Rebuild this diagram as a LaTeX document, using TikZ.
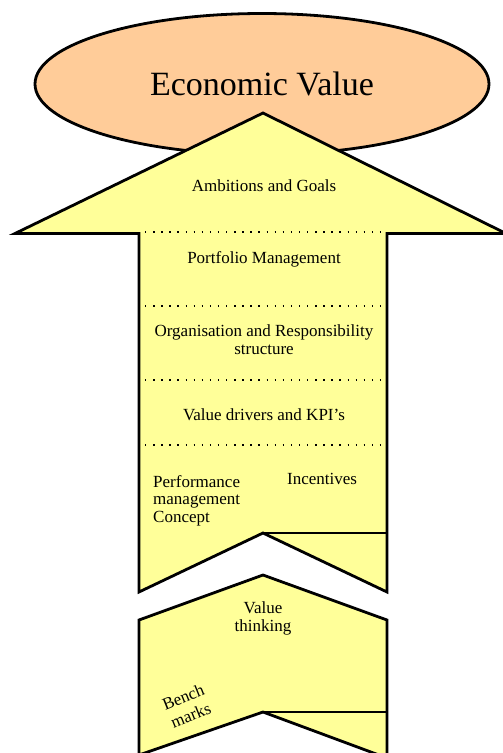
\documentclass[tikz,border=0pt]{standalone}
\usepackage{fontspec}
\setmainfont{Liberation Serif}
\usetikzlibrary{shapes.geometric}
\definecolor{peach}{HTML}{FFCC99}
\definecolor{paleyellow}{HTML}{FFFF99}
\begin{document}
\begin{tikzpicture}[x=1pt,y=-1pt,
  outline/.style={draw=black,line width=2.8pt,line join=miter},
  yellowpart/.style={outline,fill=paleyellow},
  sep/.style={line width=1.6pt,dash pattern=on 1.4pt off 6.7pt,line cap=butt},
  lbl/.style={font=\fontsize{17}{17.5}\selectfont,inner sep=0pt,align=center},
]
\useasboundingbox (0,0) rectangle (503,753);
\begin{scope}
\clip (0,0) rectangle (503,753);

% goal ellipse
\node[ellipse,outline,fill=peach,minimum width=454pt,minimum height=141pt,
      inner sep=0pt,text height=22pt,text depth=0pt,
      font=\fontsize{34}{36}\selectfont] (ev) at (262,84) {Economic Value};

% main arrow with notched tail
\draw[yellowpart] (263,113) -- (506,233.5) -- (387,233.5) -- (387,592)
  -- (263,533) -- (139,592) -- (139,233.5) -- (15,233.5) -- cycle;
\draw[outline] (263,533) -- (387,533);

% lower chevron segment
\draw[yellowpart] (263,575) -- (387,620) -- (387,758) -- (263,712)
  -- (139,755) -- (139,620) -- cycle;
\draw[outline] (263,712) -- (387,712);
\end{scope}

% dotted separators
\draw[sep] (145,232) -- (385,232);
\draw[sep] (145,306) -- (385,306);
\draw[sep] (145,380) -- (385,380);
\draw[sep] (145,445) -- (385,445);

% labels (base anchor of a multi-line label sits on its last line)
\node[lbl,anchor=base] (amb) at (264,191) {Ambitions and Goals};
\node[lbl,anchor=base] (port) at (264,263) {Portfolio Management};
\node[lbl,anchor=base] (org) at (264,354) {Organisation and Responsibility\\structure};
\node[lbl,anchor=base] (kpi) at (264,420) {Value drivers and KPI’s};
\node[lbl,anchor=base west,align=left] (perf) at (153,522) {Performance\\management\\Concept};
\node[lbl,anchor=base west] (inc) at (287,484) {Incentives};
\node[lbl,anchor=base] (vt) at (263,631) {Value\\thinking};
\node[lbl,rotate=22,font=\fontsize{17}{20}\selectfont] (bench) at (187,706) {Bench\\marks};
\end{tikzpicture}
\end{document}
